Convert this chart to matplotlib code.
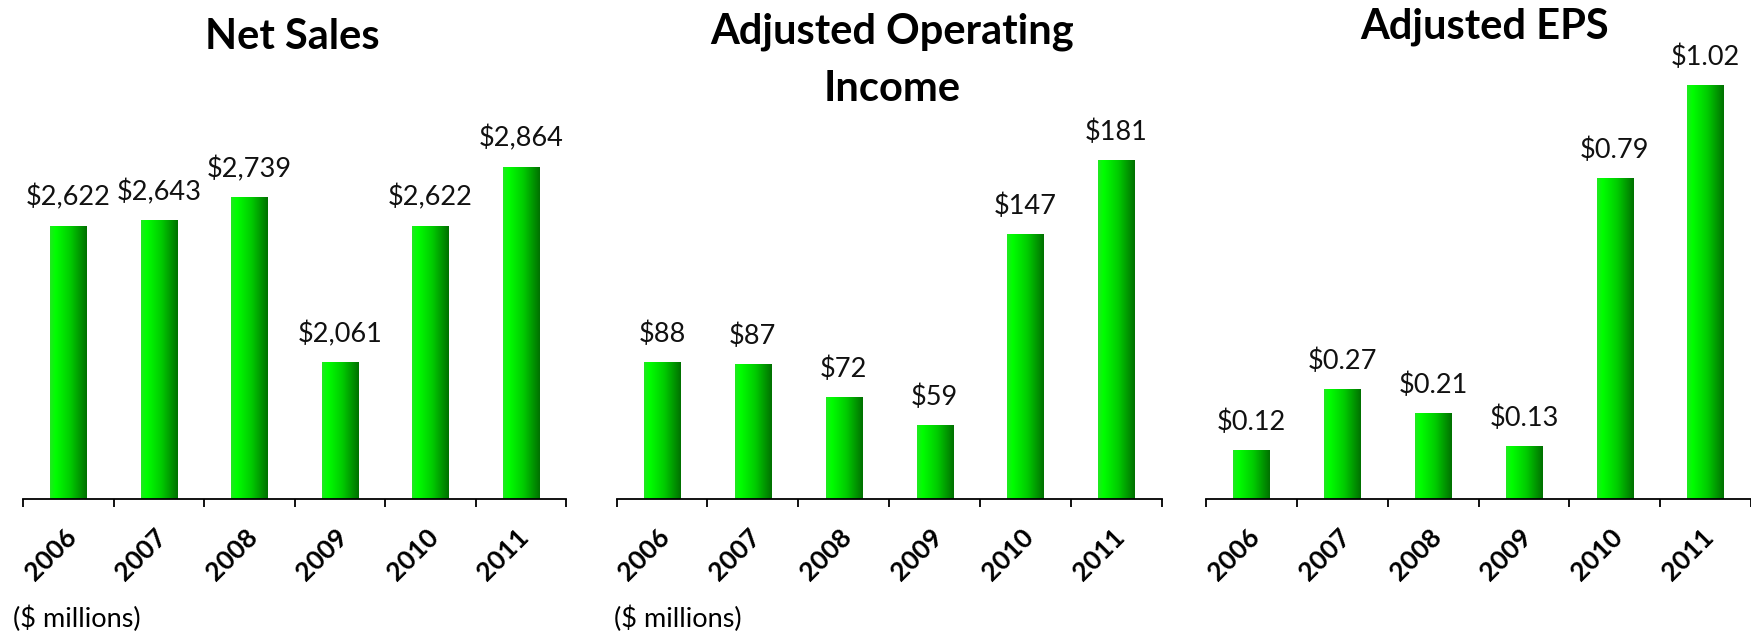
import numpy as np
import matplotlib
matplotlib.use("Agg")
import matplotlib.pyplot as plt
from matplotlib.colors import LinearSegmentedColormap
from matplotlib.transforms import ScaledTranslation

years = ["2006", "2007", "2008", "2009", "2010", "2011"]
net_sales = [2622, 2643, 2739, 2061, 2622, 2864]
adj_op_income = [88, 87, 72, 59, 147, 181]
adj_eps = [0.12, 0.27, 0.21, 0.13, 0.79, 1.02]

titles = ["Net Sales", "Adjusted Operating\nIncome", "Adjusted EPS"]
fmts = ["${:,.0f}", "${:,.0f}", "${:.2f}"]
ylims = [(1500, 3384), (25, 236.4), (0, 1.130)]

plt.rcParams["font.family"] = ["Lato", "DejaVu Sans"]

green_cmap = LinearSegmentedColormap.from_list(
    "bar_green", [(0.0, "#22e622"), (0.15, "#00ff00"), (0.55, "#00cc00"), (1.0, "#007000")]
)
grad = np.linspace(0, 1, 256).reshape(1, -1)

W, H = 1751, 637
fig = plt.figure(figsize=(W / 100, H / 100), dpi=100)

# axes boxes in pixels: left, right
boxes = [(23.3, 566.3), (616.5, 1162.0), (1206.0, 1751.0)]
base_px = 498.7
top_px = 40.0
title_x = [292.5, 892.5, 1485.0]
title_base = [49, 101, 39]

series = [net_sales, adj_op_income, adj_eps]
x = np.arange(len(years))

for k, (vals, (l, r)) in enumerate(zip(series, boxes)):
    ax = fig.add_axes([l / W, (H - base_px) / H, (r - l) / W, (base_px - top_px) / H])
    y0, y1 = ylims[k]
    bars = ax.bar(x, [v - y0 for v in vals], bottom=y0, width=0.40,
                  facecolor="none", edgecolor="none", zorder=2)
    for b in bars:
        bx, by = b.get_x(), b.get_y()
        im = ax.imshow(grad, cmap=green_cmap, aspect="auto", interpolation="bilinear",
                       extent=[bx, bx + b.get_width(), by, by + b.get_height()], zorder=2)
        im.set_clip_path(b)
    for xi, v in zip(x, vals):
        ax.annotate(fmts[k].format(v), (xi, v), xytext=(0, 14.4), textcoords="offset points",
                    ha="center", va="baseline", fontsize=19.5, color="#111111")
    ax.set_xlim(-0.5, len(years) - 0.5)
    ax.set_ylim(y0, y1)
    for s in ["top", "right", "left"]:
        ax.spines[s].set_visible(False)
    ax.spines["bottom"].set_linewidth(1.3)
    ax.set_yticks([])
    ax.set_xticks(np.arange(-0.5, len(years)), [""] * (len(years) + 1))
    ax.tick_params(axis="x", which="major", length=6, width=1.3, direction="out")
    ax.set_xticks(x, years, minor=True)
    ax.tick_params(axis="x", which="minor", length=0, pad=25)
    for lbl in ax.get_xticklabels(minor=True):
        lbl.set_rotation(45)
        lbl.set_ha("right")
        lbl.set_va("center")
        lbl.set_rotation_mode("anchor")
        lbl.set_fontweight("bold")
        lbl.set_fontsize(19)
        lbl.set_transform(lbl.get_transform() + ScaledTranslation(0.04, 0, fig.dpi_scale_trans))
    ax.patch.set_alpha(0)

    fig.text(title_x[k] / W, (H - title_base[k]) / H, titles[k], ha="center", va="baseline",
             fontsize=30, fontweight="bold", linespacing=1.62)

fig.text(13 / W, (H - 627) / H, "($ millions)", ha="left", va="baseline", fontsize=19.5)
fig.text(614 / W, (H - 627) / H, "($ millions)", ha="left", va="baseline", fontsize=19.5)

fig.savefig("out.png", dpi=100, facecolor="white")
